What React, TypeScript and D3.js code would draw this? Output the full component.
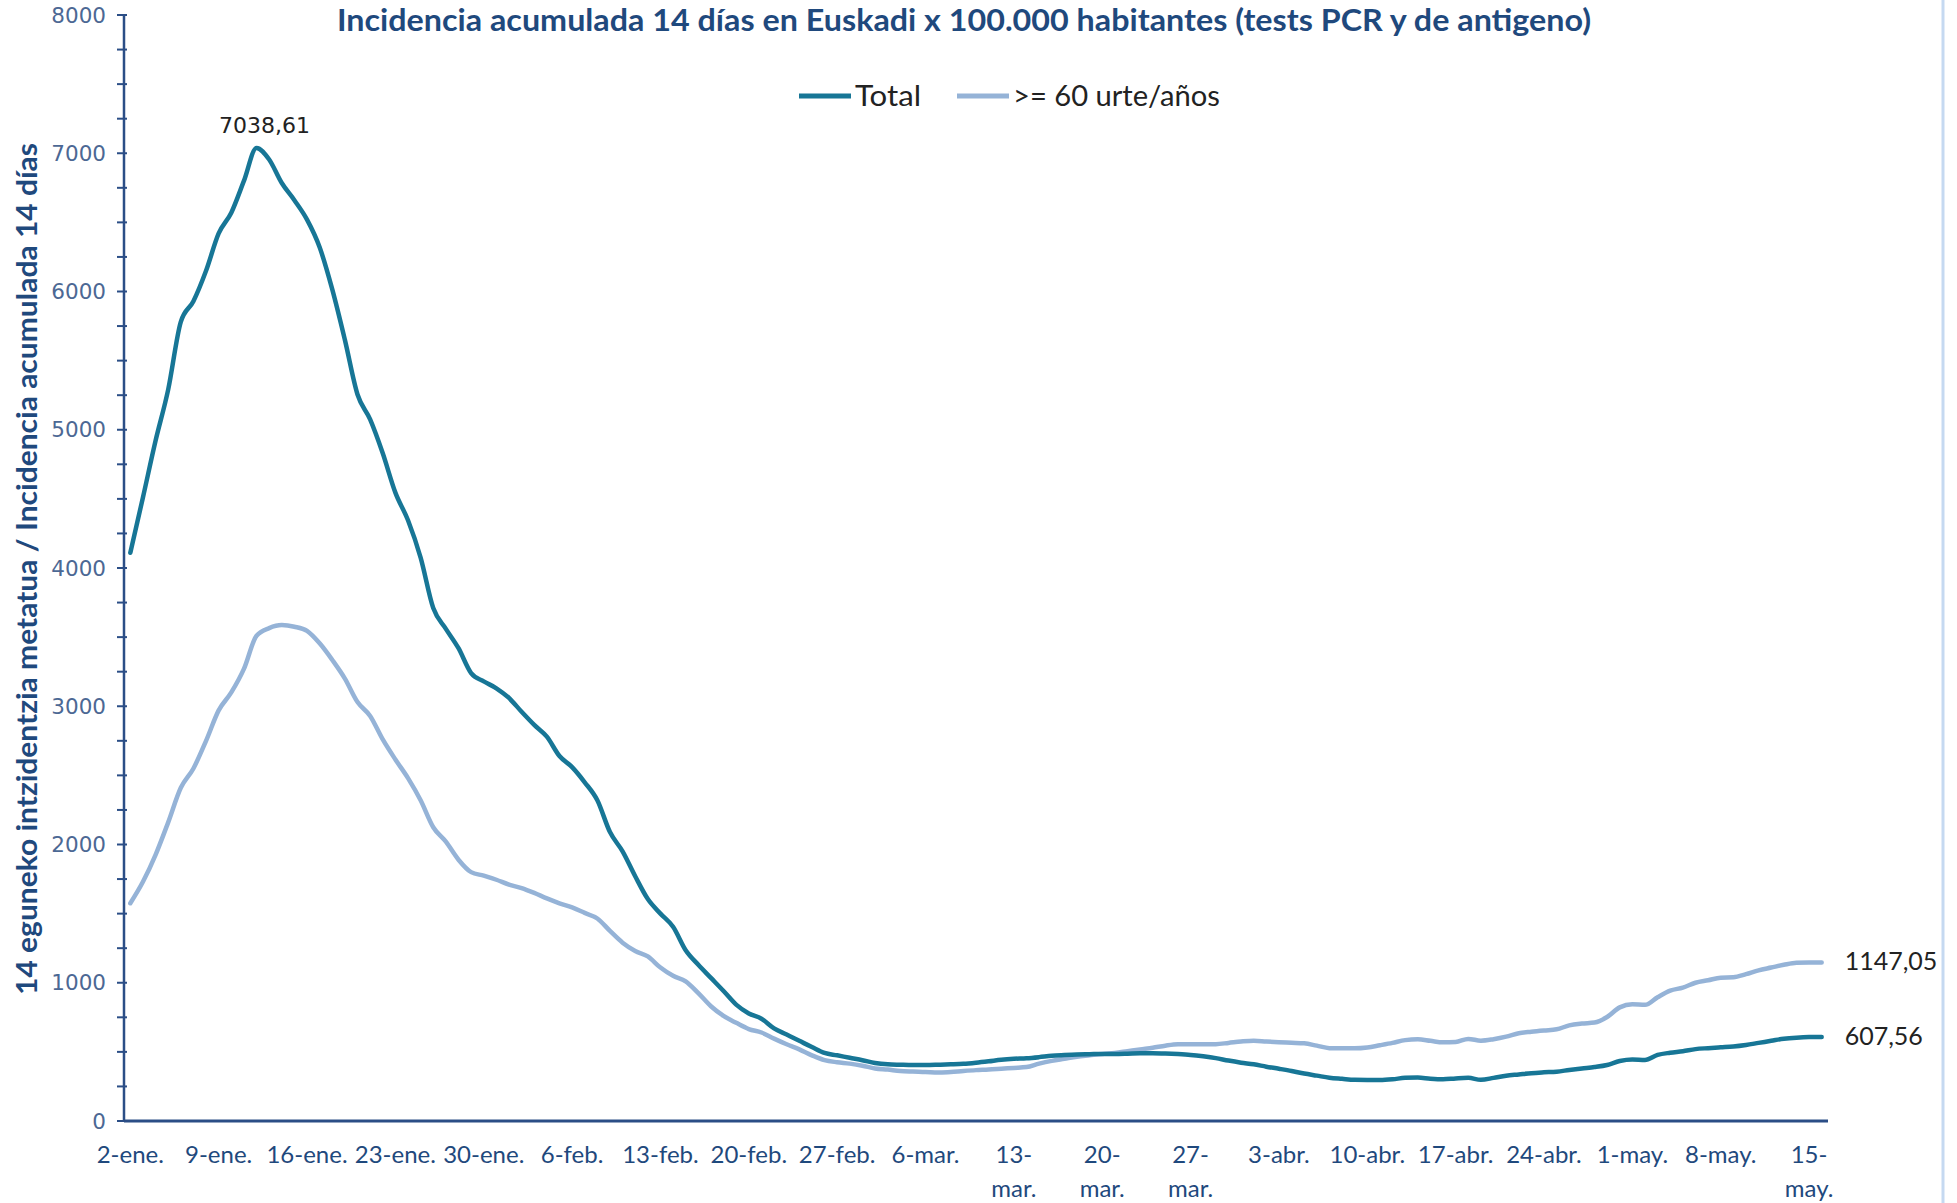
import * as d3 from 'd3';

// Daily 14-day cumulative incidence, 2 Jan – 16 May 2022
const startDay = Date.UTC(2022, 0, 2);

const totalValues = [
  4110, 4510, 4920, 5290, 5780, 5930, 6150, 6420, 6570, 6800,
  7038.61, 6955, 6785, 6660, 6520, 6320, 6015, 5650, 5255, 5075,
  4830, 4545, 4345, 4075, 3710, 3560, 3420, 3240, 3180, 3130,
  3060, 2960, 2865, 2780, 2640, 2560, 2450, 2320, 2090, 1950,
  1770, 1605, 1500, 1405, 1235, 1130, 1035, 940, 842, 778,
  740, 670, 625, 580, 535, 492, 475, 457, 440, 420,
  410, 407, 405, 405, 407, 410, 414, 422, 432, 443,
  450, 454, 462, 472, 477, 481, 483, 485, 485, 487,
  490, 490, 488, 484, 478, 468, 455, 437, 422, 410,
  393, 378, 362, 343, 328, 313, 305, 298, 297, 297,
  302, 312, 314, 306, 302, 308, 312, 298, 312, 328,
  337, 346, 352, 357, 369, 380, 390, 405, 434, 445,
  441, 478, 494, 505, 520, 527, 533, 539, 550, 565,
  580, 595, 603, 607, 607.56,
];

const over60Values = [
  1575, 1730, 1925, 2160, 2410, 2550, 2750, 2970, 3100, 3270,
  3510, 3565, 3587, 3575, 3545, 3455, 3335, 3200, 3030, 2930,
  2760, 2615, 2480, 2320, 2125, 2020, 1890, 1800, 1775, 1745,
  1710, 1685, 1650, 1610, 1575, 1545, 1505, 1465, 1375, 1290,
  1230, 1190, 1110, 1050, 1010, 925, 830, 760, 710, 665,
  640, 596, 555, 518, 475, 440, 425, 415, 400, 380,
  372, 362, 358, 355, 350, 355, 362, 368, 372, 378,
  384, 390, 415, 435, 450, 465, 475, 485, 492, 505,
  518, 530, 545, 555, 556, 556, 556, 565, 575, 581,
  575, 570, 566, 562, 545, 527, 526, 526, 532, 548,
  565, 585, 591, 580, 569, 572, 594, 581, 592, 610,
  635, 646, 655, 663, 692, 705, 712, 752, 822, 844,
  840, 895, 943, 965, 1000, 1018, 1037, 1040, 1062, 1090,
  1110, 1130, 1145, 1147, 1147.05,
];

const xTickLabels = [
  ['2-ene.'], ['9-ene.'], ['16-ene.'], ['23-ene.'], ['30-ene.'],
  ['6-feb.'], ['13-feb.'], ['20-feb.'], ['27-feb.'], ['6-mar.'],
  ['13-', 'mar.'], ['20-', 'mar.'], ['27-', 'mar.'], ['3-abr.'], ['10-abr.'],
  ['17-abr.'], ['24-abr.'], ['1-may.'], ['8-may.'], ['15-', 'may.'],
];

const yMajorTicks = [0, 1000, 2000, 3000, 4000, 5000, 6000, 7000, 8000];

const seriesNames = ['Total', '>= 60 urte/años'];
const seriesColors = ['#177696', '#95B3D7'];

const title = 'Incidencia acumulada  14 días en Euskadi x 100.000 habitantes (tests PCR y de antigeno)';
const yTitle = '14 eguneko intzidentzia metatua / Incidencia acumulada 14 días';

const W = 1957;
const H = 1203;
const axisColor = '#2B4E86';
const textBlue = '#1F497D';
const calibri = '"Liberation Sans Narrow", Lato, "Noto Sans", sans-serif';
const verdana = 'Verdana, "DejaVu Sans", sans-serif';

export default function App() {
  const dates = totalValues.map((_, i) => d3.utcDay.offset(new Date(startDay), i));
  const first = dates[0];
  const last = dates[dates.length - 1];

  const x = d3
    .scaleUtc()
    .domain([d3.utcHour.offset(first, -12), d3.utcHour.offset(last, 12)])
    .range([124, 1828]);
  const y = d3.scaleLinear().domain([0, 8000]).range([1121, 15]);

  const line = d3
    .line<number>()
    .x((_, i) => x(dates[i]))
    .y((d) => y(d))
    .curve(d3.curveMonotoneX);

  const minorTicks = d3.range(0, 8001, 250);
  const xTicks = dates.filter((_, i) => i % 7 === 0);

  const peakIdx = d3.maxIndex(totalValues);
  const fmt = (v: number) => v.toFixed(2).replace('.', ',');

  return (
    <svg
      width={W}
      height={H}
      style={{ position: 'absolute', left: 0, top: 0, background: '#fff' }}
    >
      <rect width={W} height={H} fill="#fff" />

      {/* title */}
      <text
        x={964}
        y={31}
        textAnchor="middle"
        fontFamily={calibri}
        fontWeight="bold"
        fontSize={30}
        fill={textBlue}
        textLength={1254}
        lengthAdjust="spacingAndGlyphs"
      >
        {title}
      </text>

      {/* legend */}
      {seriesNames.map((name, k) => {
        const x0 = k === 0 ? 799 : 957;
        const widths = [66, 207];
        return (
          <g key={name}>
            <line x1={x0} x2={x0 + 52} y1={96} y2={96} stroke={seriesColors[k]} strokeWidth={5} />
            <text
              x={x0 + 56}
              y={106}
              fontFamily={calibri}
              fontSize={28}
              fill="#222"
              textLength={widths[k]}
              lengthAdjust="spacingAndGlyphs"
            >
              {name}
            </text>
          </g>
        );
      })}

      {/* y axis title */}
      <text
        transform={`translate(37,569) rotate(-90)`}
        textAnchor="middle"
        fontFamily={calibri}
        fontWeight="bold"
        fontSize={28}
        fill={textBlue}
        textLength={852}
        lengthAdjust="spacingAndGlyphs"
      >
        {yTitle}
      </text>

      {/* y axis */}
      {minorTicks.map((t) => (
        <line key={t} x1={117} x2={127} y1={y(t)} y2={y(t)} stroke={axisColor} strokeWidth={2} />
      ))}
      <line x1={124} x2={124} y1={y(8000)} y2={y(0)} stroke={axisColor} strokeWidth={2.5} />
      {yMajorTicks.map((t) => (
        <text
          key={t}
          x={106}
          y={y(t)}
          dy="0.36em"
          textAnchor="end"
          fontFamily={verdana}
          fontSize={21.5}
          fill="#4C6894"
        >
          {t}
        </text>
      ))}

      {/* x axis */}
      <line x1={124} x2={1828} y1={y(0)} y2={y(0)} stroke={axisColor} strokeWidth={3} />
      {xTicks.map((d, i) => (
        <text
          key={i}
          x={x(d)}
          y={1163}
          textAnchor="middle"
          fontFamily={calibri}
          fontSize={24}
          fill={textBlue}
        >
          {xTickLabels[i].map((s, j) => (
            <tspan key={j} x={x(d)} dy={j === 0 ? 0 : 34}>
              {s}
            </tspan>
          ))}
        </text>
      ))}

      {/* series */}
      <path
        d={line(over60Values) ?? ''}
        fill="none"
        stroke={seriesColors[1]}
        strokeWidth={4.5}
        strokeLinejoin="round"
        strokeLinecap="round"
      />
      <path
        d={line(totalValues) ?? ''}
        fill="none"
        stroke={seriesColors[0]}
        strokeWidth={4.5}
        strokeLinejoin="round"
        strokeLinecap="round"
      />

      {/* data labels */}
      <text
        x={x(dates[peakIdx]) + 8}
        y={y(totalValues[peakIdx]) - 15}
        textAnchor="middle"
        fontFamily={verdana}
        fontSize={22}
        fill="#222"
      >
        {fmt(totalValues[peakIdx])}
      </text>
      <text
        x={x(last) + 23}
        y={y(over60Values[over60Values.length - 1]) + 8}
        fontFamily={calibri}
        fontSize={25}
        fill="#222"
      >
        {fmt(over60Values[over60Values.length - 1])}
      </text>
      <text
        x={x(last) + 23}
        y={y(totalValues[totalValues.length - 1]) + 8}
        fontFamily={calibri}
        fontSize={25}
        fill="#222"
      >
        {fmt(totalValues[totalValues.length - 1])}
      </text>

      {/* selection border at the right */}
      <line x1={1943} x2={1943} y1={0} y2={H} stroke="#C5D9F1" strokeWidth={3} />
    </svg>
  );
}
